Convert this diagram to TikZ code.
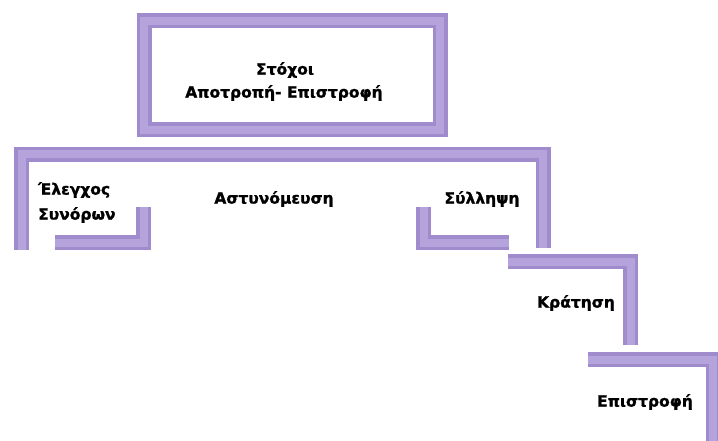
\documentclass[tikz,border=0pt]{standalone}
\usepackage{fontspec}
\setmainfont{DejaVu Sans}[BoldFeatures={FakeBold=1.3}]
\definecolor{bandc}{RGB}{160,140,205}
\definecolor{bandl}{RGB}{180,164,219}
\tikzset{
  band/.style={line width=15pt, draw=bandc, line join=miter, line cap=butt},
  bandhi/.style={line width=8pt, draw=bandl, line join=miter, line cap=butt},
  lbl/.style={font=\bfseries\fontsize{15.5}{19}\selectfont, inner sep=0pt, text=black},
}
\begin{document}
\begin{tikzpicture}[x=1pt,y=-1pt]
\useasboundingbox[fill=white] (0,0) rectangle (718,441);
% top box
\draw[band] (144,21) rectangle (440,130);
\draw[bandhi] (144,21) rectangle (440,130);
% big bracket
\draw[band] (21.5,250) -- (21.5,154.5) -- (543,154.5) -- (543,248);
\draw[bandhi] (21.5,250) -- (21.5,154.5) -- (543,154.5) -- (543,248);
% small L left
\draw[band] (55,242.5) -- (143.5,242.5) -- (143.5,207);
\draw[bandhi] (55,242.5) -- (143.5,242.5) -- (143.5,207);
% small L right
\draw[band] (423.5,207) -- (423.5,242.5) -- (509,242.5);
\draw[bandhi] (423.5,207) -- (423.5,242.5) -- (509,242.5);
% third step
\draw[band] (508,261.5) -- (630.5,261.5) -- (630.5,345);
\draw[bandhi] (508,261.5) -- (630.5,261.5) -- (630.5,345);
% fourth step
\draw[band] (588,359.5) -- (713,359.5) -- (713,445);
\draw[bandhi] (588,359.5) -- (713,359.5) -- (713,445);
% labels
\node[lbl] (goal1) at (285,70) {Στόχοι};
\node[lbl] (goal2) at (284,93) {Αποτροπή- Επιστροφή};
\node[lbl, anchor=west] (border1) at (38,190) {Έλεγχος};
\node[lbl, anchor=west] (border2) at (38,215) {Συνόρων};
\node[lbl] (police) at (274,199) {Αστυνόμευση};
\node[lbl] (arrest) at (482,199) {Σύλληψη};
\node[lbl] (detent) at (576,303) {Κράτηση};
\node[lbl] (return) at (645,402) {Επιστροφή};
\end{tikzpicture}
\end{document}
